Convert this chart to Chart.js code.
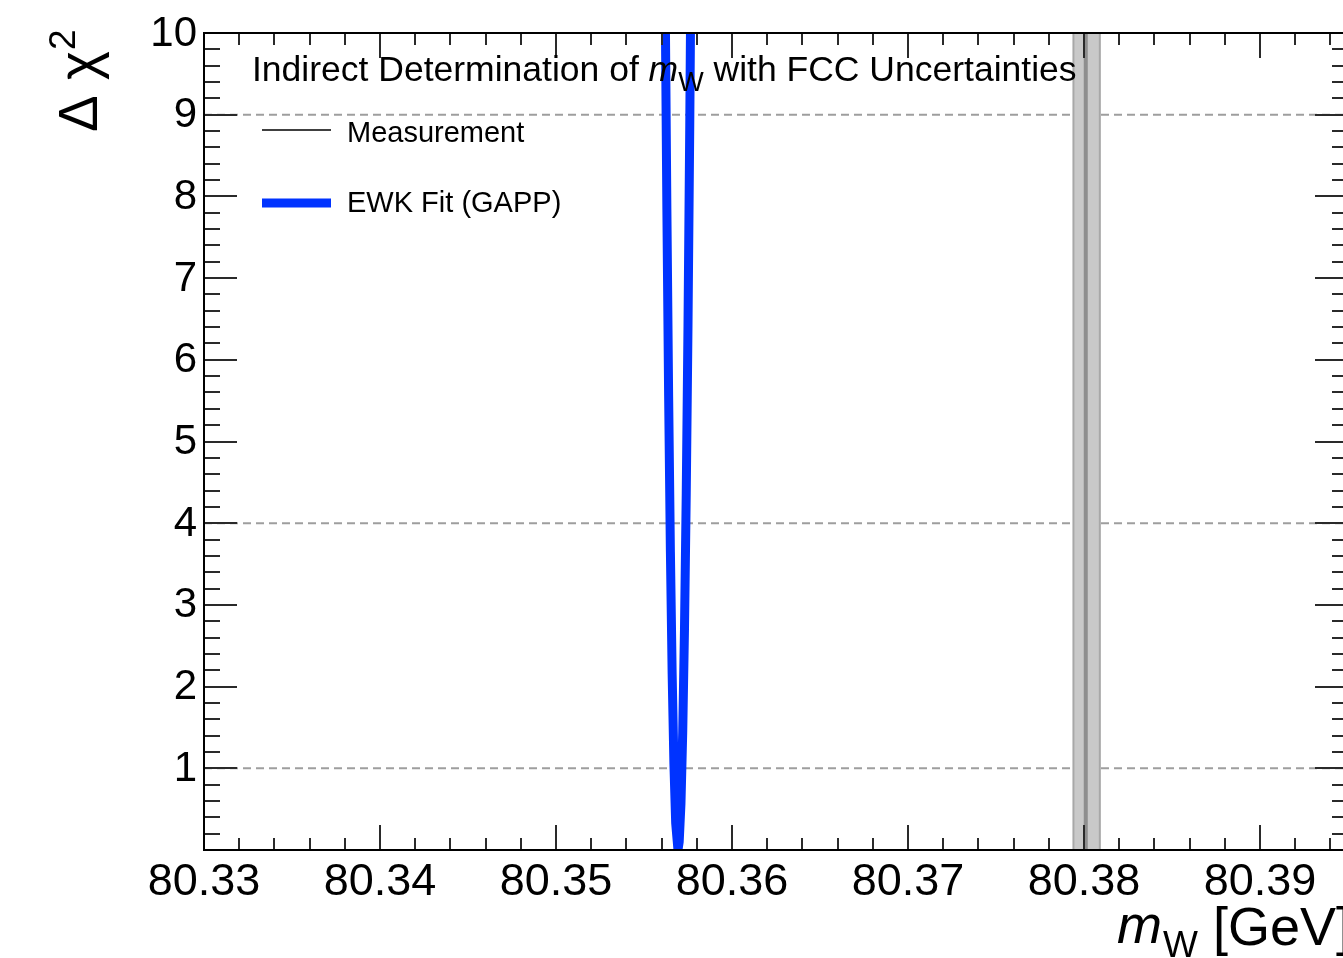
<!DOCTYPE html>
<html>
<head>
<meta charset="utf-8">
<script src="https://cdn.jsdelivr.net/npm/chart.js@4"></script>
<style>
  html, body { margin: 0; padding: 0; overflow: hidden; background: #ffffff; }
  canvas { display: block; }
</style>
</head>
<body>
<canvas id="c" width="1360" height="958"></canvas>
<script>
// Δχ² profile of the electroweak fit prediction for mW [GeV]
const fitMass = [80.3562, 80.3563, 80.3564, 80.3565, 80.3566, 80.3567, 80.3568, 80.35693,
                 80.3570, 80.3571, 80.3572, 80.3573, 80.3574, 80.3575, 80.3576, 80.3577];
const fitDeltaChi2 = [10.53, 7.84, 5.55, 3.65, 2.15, 1.05, 0.33, 0.0,
                      0.10, 0.57, 1.44, 2.70, 4.36, 6.42, 8.87, 11.71];

// direct measurement: central value and band edges [GeV]
const measCentral = 80.3801;
const measLow = 80.3794;
const measHigh = 80.3809;

// reference Δχ² levels drawn as dashed lines
const chi2Levels = [1, 4, 9];

// axis ranges and labelled ticks
const xRange = [80.33, 80.395];
const yRange = [0, 10];
const xTickValues = [80.33, 80.34, 80.35, 80.36, 80.37, 80.38, 80.39];
const xTickLabels = ['80.33', '80.34', '80.35', '80.36', '80.37', '80.38', '80.39'];
const yTickValues = [1, 2, 3, 4, 5, 6, 7, 8, 9, 10];
const yTickLabels = ['1', '2', '3', '4', '5', '6', '7', '8', '9', '10'];

const FONT = "'Liberation Sans', Arial, Helvetica, sans-serif";
const BLUE = '#0033ff';

const fitPoints = fitMass.map((m, i) => ({ x: m, y: fitDeltaChi2[i] }));
const levelSets = chi2Levels.map(v => ({
  type: 'line',
  data: [{ x: xRange[0], y: v }, { x: xRange[1], y: v }],
  borderColor: '#9e9e9e',
  borderWidth: 2,
  borderDash: [8, 5],
  pointRadius: 0,
  clip: 0,
  order: 5
}));

// ROOT-style frame, inward ticks, labels, titles and legend
const frameDecor = {
  id: 'frameDecor',
  afterDatasetsDraw(chart) {
    const ctx = chart.ctx;
    const a = chart.chartArea;
    const xs = chart.scales.x, ys = chart.scales.y;
    ctx.save();

    // ticks
    ctx.strokeStyle = '#2a2a2a';
    ctx.lineWidth = 2;
    ctx.beginPath();
    for (let k = 0; ; k++) {
      const v = xRange[0] + k * 0.002;
      if (v > xRange[1] + 1e-9) break;
      const px = Math.round(xs.getPixelForValue(v));
      const len = (k % 5 === 0) ? 25 : 12;
      ctx.moveTo(px, a.bottom); ctx.lineTo(px, a.bottom - len);
      ctx.moveTo(px, a.top); ctx.lineTo(px, a.top + len);
    }
    for (let k = 0; ; k++) {
      const v = yRange[0] + k * 0.2;
      if (v > yRange[1] + 1e-9) break;
      const py = Math.round(ys.getPixelForValue(v));
      const len = (k % 5 === 0) ? 33 : 16;
      ctx.moveTo(a.left, py); ctx.lineTo(a.left + len, py);
      ctx.moveTo(a.right, py); ctx.lineTo(a.right - len, py);
    }
    ctx.stroke();

    // frame
    ctx.strokeStyle = '#000';
    ctx.lineWidth = 2;
    ctx.strokeRect(a.left, a.top, a.right - a.left, a.bottom - a.top);

    // tick labels
    ctx.fillStyle = '#000';
    ctx.font = '45px ' + FONT;
    ctx.textAlign = 'center';
    ctx.textBaseline = 'alphabetic';
    xTickValues.forEach((v, i) => {
      ctx.fillText(xTickLabels[i], xs.getPixelForValue(v), 895);
    });
    ctx.font = '42px ' + FONT;
    ctx.textAlign = 'right';
    ctx.textBaseline = 'middle';
    yTickValues.forEach((v, i) => {
      ctx.fillText(yTickLabels[i], 197, ys.getPixelForValue(v) + 1);
    });

    ctx.textAlign = 'left';
    ctx.textBaseline = 'alphabetic';

    // x-axis title: m_W [GeV]
    let x = 1117;
    ctx.font = 'italic 54px ' + FONT;
    ctx.fillText('m', x, 943);
    x += ctx.measureText('m').width + 1;
    ctx.font = '37px ' + FONT;
    ctx.fillText('W', x, 957);
    x += ctx.measureText('W').width;
    ctx.font = '54px ' + FONT;
    ctx.fillText(' [GeV]', x, 945);

    // y-axis title: Δχ²
    ctx.save();
    ctx.translate(97, 132);
    ctx.rotate(-Math.PI / 2);
    ctx.font = '55px ' + FONT;
    ctx.fillText('\u0394 \u03c7', 0, 0);
    const w = ctx.measureText('\u0394 \u03c7').width;
    ctx.font = '37px ' + FONT;
    ctx.fillText('2', w + 1, -22);
    ctx.restore();

    // header text
    x = 252;
    ctx.font = '35.5px ' + FONT;
    ctx.fillText('Indirect Determination of ', x, 81);
    x += ctx.measureText('Indirect Determination of ').width;
    ctx.font = 'italic 35.5px ' + FONT;
    ctx.fillText('m', x, 81);
    x += ctx.measureText('m').width;
    ctx.font = '27px ' + FONT;
    ctx.fillText('W', x, 91);
    x += ctx.measureText('W').width;
    ctx.font = '35.5px ' + FONT;
    ctx.fillText(' with FCC Uncertainties', x, 81);

    // legend
    ctx.strokeStyle = '#000';
    ctx.lineWidth = 1.5;
    ctx.beginPath();
    ctx.moveTo(262, 130); ctx.lineTo(331, 130);
    ctx.stroke();
    ctx.strokeStyle = BLUE;
    ctx.lineWidth = 9;
    ctx.beginPath();
    ctx.moveTo(262, 203); ctx.lineTo(331, 203);
    ctx.stroke();
    ctx.font = '29px ' + FONT;
    ctx.fillStyle = '#000';
    ctx.fillText('Measurement', 347, 142);
    ctx.fillText('EWK Fit (GAPP)', 347, 212);

    ctx.restore();
  }
};

new Chart(document.getElementById('c'), {
  type: 'line',
  data: {
    datasets: [
      ...levelSets,
      {
        // measurement band
        data: [{ x: measLow, y: yRange[0] }, { x: measLow, y: yRange[1] },
               { x: measHigh, y: yRange[1] }, { x: measHigh, y: yRange[0] }],
        borderColor: '#a8a8a8',
        backgroundColor: '#c9c9c9',
        borderWidth: 2,
        fill: 'origin',
        pointRadius: 0,
        clip: 0,
        order: 4
      },
      {
        // measurement central value
        data: [{ x: measCentral, y: yRange[0] }, { x: measCentral, y: yRange[1] }],
        borderColor: '#8e8e8e',
        borderWidth: 4,
        pointRadius: 0,
        clip: 0,
        order: 3
      },
      {
        // EWK fit Δχ² curve
        data: fitPoints,
        borderColor: BLUE,
        borderWidth: 9,
        pointRadius: 0,
        tension: 0,
        clip: 0,
        order: 1
      }
    ]
  },
  options: {
    responsive: false,
    animation: false,
    devicePixelRatio: 1,
    layout: { padding: { left: 204, top: 33, right: 12, bottom: 108 } },
    plugins: { legend: { display: false }, tooltip: { enabled: false }, title: { display: false } },
    events: [],
    scales: {
      x: { type: 'linear', min: xRange[0], max: xRange[1], display: false },
      y: { type: 'linear', min: yRange[0], max: yRange[1], display: false }
    }
  },
  plugins: [frameDecor]
});
</script>
</body>
</html>
